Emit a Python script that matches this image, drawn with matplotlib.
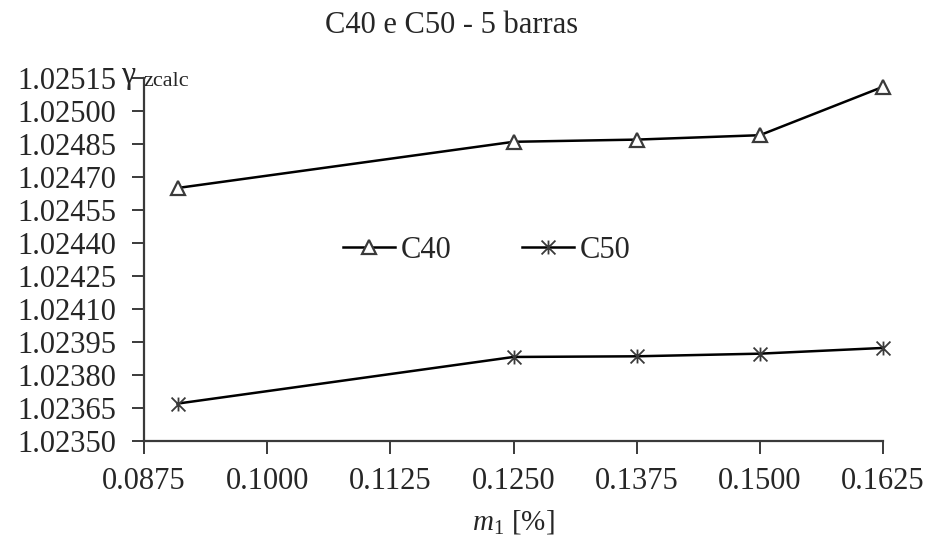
import numpy as np
import matplotlib
matplotlib.use("Agg")
import matplotlib.pyplot as plt
from matplotlib.path import Path
from matplotlib.ticker import FormatStrFormatter

# values
m1 = [0.0909, 0.125, 0.1375, 0.15, 0.1625]
c40 = [1.02465, 1.02486, 1.02487, 1.02489, 1.02511]
c50 = [1.02367, 1.023882, 1.023885, 1.023897, 1.023923]
series_names = ["C40", "C50"]
title = "C40 e C50 - 5 barras"
x_ticks = [0.0875, 0.1000, 0.1125, 0.1250, 0.1375, 0.1500, 0.1625]
y_ticks = [1.02350, 1.02365, 1.02380, 1.02395, 1.02410, 1.02425,
           1.02440, 1.02455, 1.02470, 1.02485, 1.02500, 1.02515]

plt.rcParams['font.family'] = ['Liberation Serif', 'DejaVu Serif']
plt.rcParams['mathtext.fontset'] = 'custom'
plt.rcParams['mathtext.rm'] = 'Liberation Serif'
plt.rcParams['mathtext.it'] = 'Liberation Serif:italic'
plt.rcParams['mathtext.default'] = 'it'  # only the x label uses mathtext

W, H = 926, 535
fig = plt.figure(figsize=(W / 100, H / 100), dpi=100)
# axes box in pixels: left 144, right 883, top 78, bottom 441
ax = fig.add_axes([144 / W, 1 - 441 / H, (883 - 144) / W, (441 - 78) / H])

txt = '#262626'
axc = '#3a3a3a'

# excel-like star: x with a vertical bar
star = Path([(0, -1), (0, 1), (-1, -1), (1, 1), (-1, 1), (1, -1)],
            [Path.MOVETO, Path.LINETO, Path.MOVETO, Path.LINETO, Path.MOVETO, Path.LINETO])

ax.plot(m1, c40, color='black', lw=1.8, marker='^', markersize=10.5,
        markerfacecolor='white', markeredgecolor=axc, markeredgewidth=1.6,
        label=series_names[0], zorder=3, clip_on=False)
ax.plot(m1, c50, color='black', lw=1.8, marker=star, markersize=10,
        markeredgecolor=axc, markeredgewidth=1.3,
        label=series_names[1], zorder=3, clip_on=False)

ax.set_xlim(x_ticks[0], x_ticks[-1])
ax.set_ylim(y_ticks[0], y_ticks[-1])
ax.set_xticks(x_ticks)
ax.set_yticks(y_ticks)
ax.xaxis.set_major_formatter(FormatStrFormatter('%.4f'))
ax.yaxis.set_major_formatter(FormatStrFormatter('%.5f'))

for s in ['top', 'right']:
    ax.spines[s].set_visible(False)
for s in ['left', 'bottom']:
    ax.spines[s].set_color(axc)
    ax.spines[s].set_linewidth(1.6)

ax.tick_params(axis='both', direction='out', length=9, width=1.4, color=axc,
               labelsize=22, labelcolor=txt)
ax.tick_params(axis='y', pad=11)
ax.tick_params(axis='x', pad=10)

ax.set_xlabel(r'$m_1$ [%]', fontsize=21, color=txt, labelpad=8)
fig.suptitle(title, fontsize=22, color=txt, x=452 / W, y=1 - 11 / H, va='top')

# y axis label at the top of the axis, gamma with subscript
fig.text(121 / W, 1 - 83 / H, 'γ', fontsize=23, color=txt, va='baseline')
fig.text(143 / W, 1 - 86 / H, 'zcalc', fontsize=16, color=txt, va='baseline')

leg = ax.legend(loc='center', bbox_to_anchor=(0.464, 0.525), ncol=2, frameon=False,
                fontsize=22, handlelength=1.7, handletextpad=0.2, columnspacing=2.3,
                labelcolor=txt)

fig.savefig('out.png', dpi=100)
